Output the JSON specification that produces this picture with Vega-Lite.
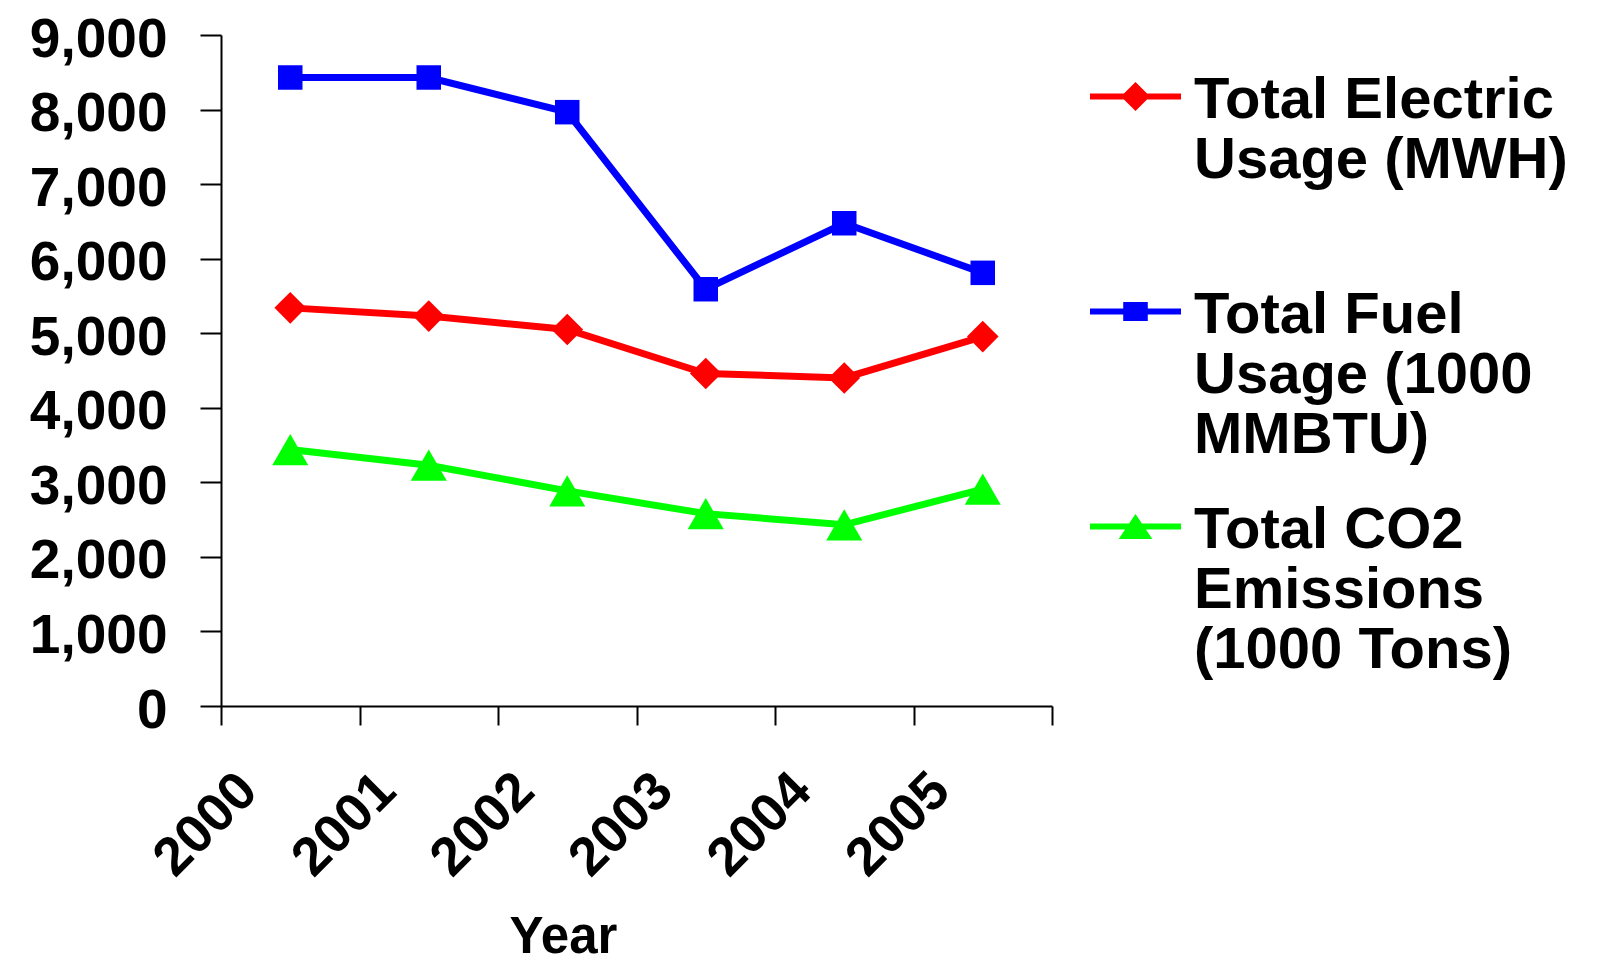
{
  "$schema": "https://vega.github.io/schema/vega-lite/v6.json",
  "autosize": "none",
  "width": 831,
  "height": 671,
  "padding": {"left": 221, "top": 35, "right": 559, "bottom": 259},
  "background": "white",
  "config": {"view": {"stroke": null}, "font": "Liberation Sans"},
  "data": {
    "values": [
      {"year": "2000", "series": "Total Electric|Usage (MWH)|", "value": 5340},
      {"year": "2001", "series": "Total Electric|Usage (MWH)|", "value": 5230},
      {"year": "2002", "series": "Total Electric|Usage (MWH)|", "value": 5050},
      {"year": "2003", "series": "Total Electric|Usage (MWH)|", "value": 4460},
      {"year": "2004", "series": "Total Electric|Usage (MWH)|", "value": 4400},
      {"year": "2005", "series": "Total Electric|Usage (MWH)|", "value": 4955},
      {"year": "2000", "series": "Total Fuel|Usage (1000|MMBTU)", "value": 8430},
      {"year": "2001", "series": "Total Fuel|Usage (1000|MMBTU)", "value": 8430},
      {"year": "2002", "series": "Total Fuel|Usage (1000|MMBTU)", "value": 7965},
      {"year": "2003", "series": "Total Fuel|Usage (1000|MMBTU)", "value": 5590},
      {"year": "2004", "series": "Total Fuel|Usage (1000|MMBTU)", "value": 6475},
      {"year": "2005", "series": "Total Fuel|Usage (1000|MMBTU)", "value": 5810},
      {"year": "2000", "series": "Total CO2|Emissions|(1000 Tons)", "value": 3440},
      {"year": "2001", "series": "Total CO2|Emissions|(1000 Tons)", "value": 3230},
      {"year": "2002", "series": "Total CO2|Emissions|(1000 Tons)", "value": 2885},
      {"year": "2003", "series": "Total CO2|Emissions|(1000 Tons)", "value": 2580},
      {"year": "2004", "series": "Total CO2|Emissions|(1000 Tons)", "value": 2430},
      {"year": "2005", "series": "Total CO2|Emissions|(1000 Tons)", "value": 2910}
    ]
  },
  "encoding": {
    "x": {
      "field": "year",
      "type": "ordinal",
      "scale": {"type": "band", "paddingInner": 0, "paddingOuter": 0},
      "axis": {
        "title": "Year",
        "titleFont": "Liberation Sans",
        "titleFontSize": 51,
        "titleFontWeight": "bold",
        "titleColor": "black",
        "titleX": 342,
        "titleY": 246,
        "titleAlign": "center",
        "titleBaseline": "alphabetic",
        "labelAngle": -45,
        "labelAlign": "right",
        "labelBaseline": "middle",
        "labelFont": "Liberation Sans",
        "labelFontSize": 54,
        "labelFontWeight": "bold",
        "labelColor": "black",
        "labelPadding": 57,
        "labelOffset": -42,
        "labelOverlap": false,
        "labelBound": false,
        "tickBand": "extent",
        "tickSize": 19,
        "tickWidth": 2,
        "tickColor": "black",
        "domainColor": "black",
        "domainWidth": 2,
        "grid": false
      }
    },
    "y": {
      "field": "value",
      "type": "quantitative",
      "scale": {"domain": [0, 9000], "nice": false, "zero": true},
      "axis": {
        "title": null,
        "values": [0, 1000, 2000, 3000, 4000, 5000, 6000, 7000, 8000, 9000],
        "format": ",.0f",
        "labelFont": "Liberation Sans",
        "labelFontSize": 55,
        "labelFontWeight": "bold",
        "labelColor": "black",
        "labelPadding": 33,
        "labelOffset": 4,
        "tickSize": 21,
        "tickWidth": 2,
        "tickColor": "black",
        "domainColor": "black",
        "domainWidth": 2,
        "grid": false
      }
    },
    "color": {
      "field": "series",
      "type": "nominal",
      "scale": {
        "domain": ["Total Electric|Usage (MWH)|", "Total Fuel|Usage (1000|MMBTU)", "Total CO2|Emissions|(1000 Tons)"],
        "range": ["#ff0000", "#0000ff", "#00ff00"]
      },
      "legend": {
        "orient": "none",
        "legendX": 869,
        "legendY": 16,
        "title": null,
        "padding": 0,
        "symbolSize": 8281,
        "symbolType": "circle",
        "labelFont": "Liberation Sans",
        "labelFontSize": 58,
        "labelFontWeight": "bold",
        "labelColor": "black",
        "labelLimit": 0,
        "labelLineHeight": 64,
        "labelOffset": 13,
        "labelBaseline": "alphabetic",
        "labelExpr": "split(datum.label, '|')",
        "rowPadding": 16,
        "encode": {
          "symbols": {
            "update": {
              "shape": {"signal": "datum.value === 'Total Electric|Usage (MWH)|' ? 'M-1,-0.066H1V0.066H-1Z M0,-0.32L0.32,0L0,0.32L-0.32,0Z' : datum.value === 'Total Fuel|Usage (1000|MMBTU)' ? 'M-1,-0.066H1V0.066H-1Z M-0.27,-0.21H0.27V0.21H-0.27Z' : 'M-1,-0.066H1V0.066H-1Z M0,-0.275L0.37,0.275H-0.37Z'"},
              "fill": {"signal": "scale('color', datum.value)"},
              "stroke": {"value": "transparent"},
              "strokeWidth": {"value": 0},
              "opacity": {"value": 1}
            }
          },
          "labels": {
            "update": {"dy": {"value": 21}}
          }
        }
      }
    }
  },
  "layer": [
    {"mark": {"type": "line", "strokeWidth": 7}},
    {
      "mark": {"type": "point", "filled": true, "opacity": 1},
      "encoding": {
        "shape": {
          "condition": [
            {"test": "datum.series === 'Total Electric|Usage (MWH)|'", "value": "diamond"},
            {"test": "datum.series === 'Total Fuel|Usage (1000|MMBTU)'", "value": "square"}
          ],
          "value": "triangle-up"
        },
        "size": {
          "condition": [
            {"test": "datum.series === 'Total Electric|Usage (MWH)|'", "value": 1000},
            {"test": "datum.series === 'Total Fuel|Usage (1000|MMBTU)'", "value": 600}
          ],
          "value": 1300
        }
      }
    }
  ]
}
